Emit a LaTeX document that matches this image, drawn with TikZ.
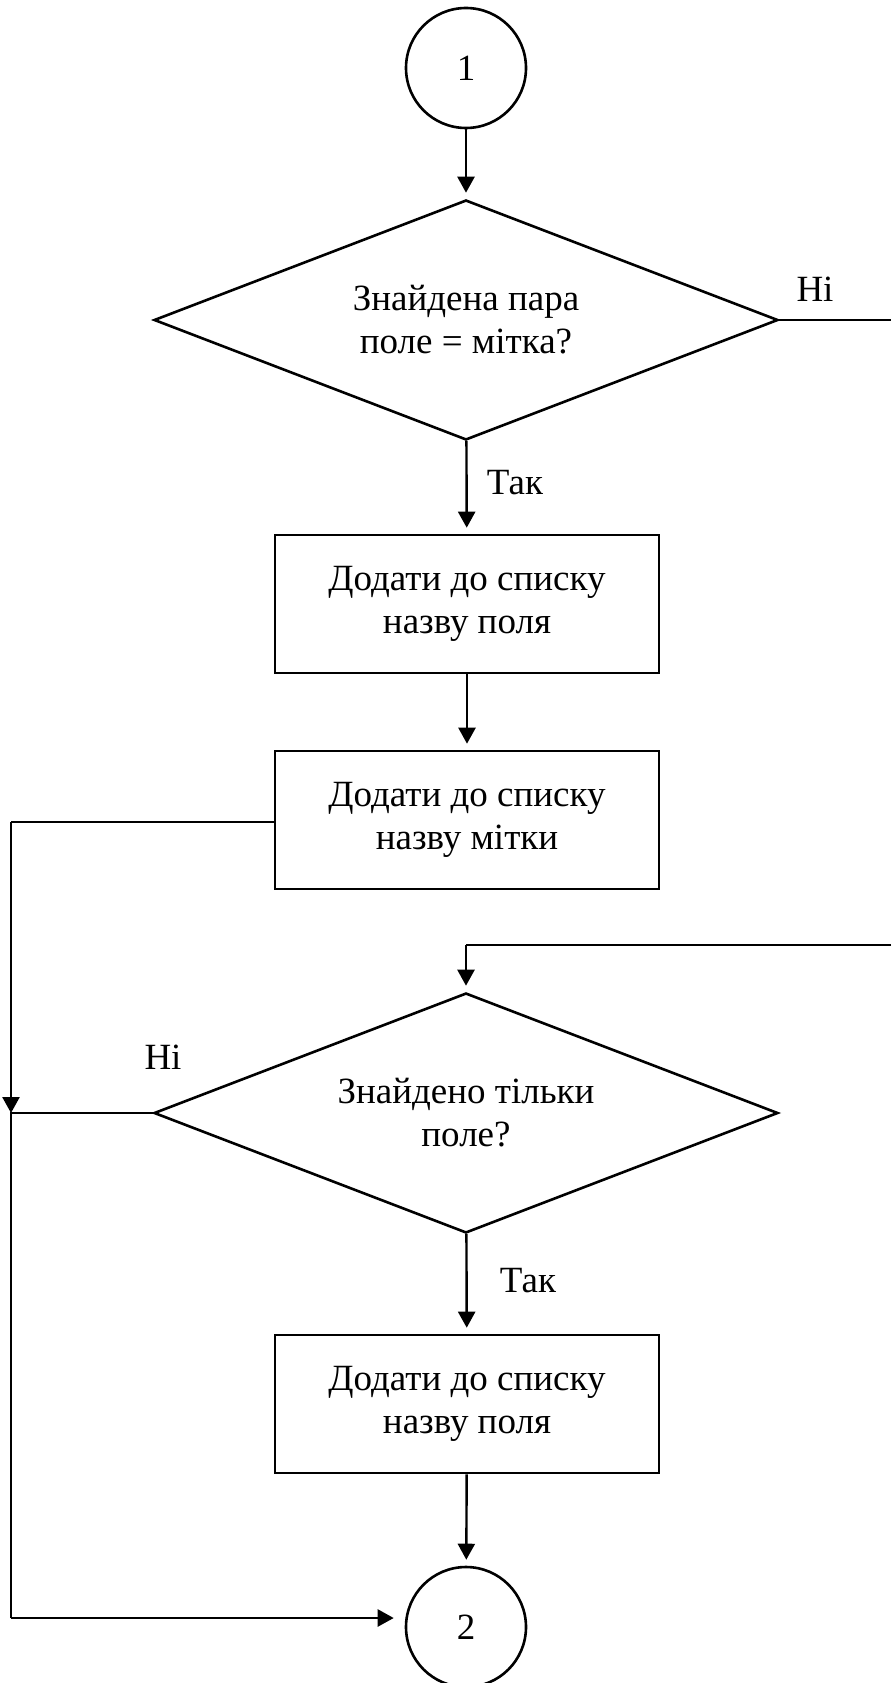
\documentclass[tikz,border=0pt]{standalone}
\usepackage{fontspec}
\setmainfont{Liberation Serif}
\usetikzlibrary{shapes.geometric,arrows.meta}

\tikzset{
  blk/.style={draw, line width=2.6pt, rectangle, minimum width=384pt, minimum height=138pt, align=center},
  rhomb/.style={draw, line width=2.6pt, diamond, aspect=2.6, minimum width=624pt, minimum height=240pt, inner sep=0pt, align=center},
  conn/.style={draw, line width=2.6pt, circle, minimum size=120pt, inner sep=0pt},
  arr/.style={line width=2.4pt, -{Triangle[width=17pt,length=16pt]}, shorten >=6pt},
  ln/.style={line width=1.5pt}
}

\begin{document}
\begin{tikzpicture}[x=1pt, y=-1pt, font=\fontsize{37}{43}\selectfont]
\useasboundingbox (0,0) rectangle (891,1683);

\node[conn] (c1) at (466,68) {1};
\node[rhomb] (d1) at (466,320) {Знайдена пара\\поле = мітка?};
\node[blk] (b1) at (467,604) {Додати до списку\\назву поля};
\node[blk] (b2) at (467,820) {Додати до списку\\назву мітки};
\node[rhomb] (d2) at (466,1113) {Знайдено тільки\\поле?};
\node[blk] (b3) at (467,1404) {Додати до списку\\назву поля};
\node[conn] (c2) at (466,1627) {2};

\coordinate (r1) at (891,320);
\coordinate (r2) at (891,945);
\coordinate (t2) at (466,945);
\coordinate (l1) at (11,822);
\coordinate (l2) at (11,1113);
\coordinate (l3) at (11,1618);

\draw[arr] (c1) -- (d1);
\draw[ln] (d1.east) -- (r1);
\draw[arr] (d1) -- (b1);
\draw[arr] (b1) -- (b2);
\draw[ln] (b2.west |- l1) -- (l1);
\draw[arr, shorten >=0pt] (l1) -- (l2);
\draw[ln] (r2) -- (t2);
\draw[arr] (t2) -- (d2.north);
\draw[ln] (d2.west) -- (l2) -- (l3);
\draw[arr, shorten >=11pt] (l3) -- (l3 -| c2.west);
\draw[arr] (d2) -- (b3);
\draw[arr] (b3) -- (c2);

\node (no1) at (815,289) {Ні};
\node (yes1) at (515,483) {Так};
\node (no2) at (163,1057) {Ні};
\node (yes2) at (528,1281) {Так};
\end{tikzpicture}
\end{document}
